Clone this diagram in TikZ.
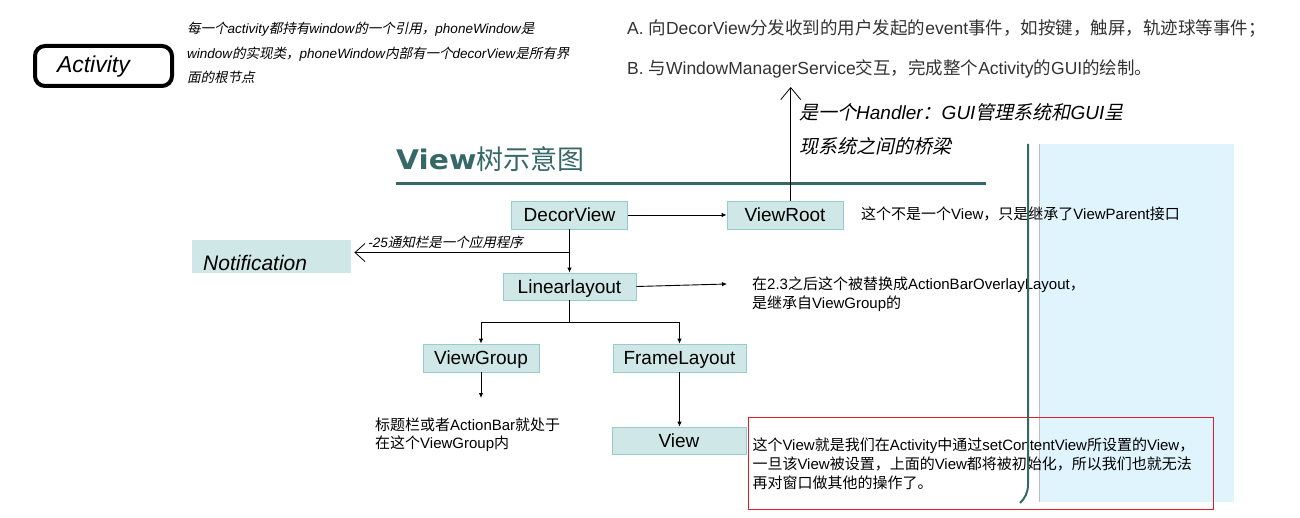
\documentclass[tikz,border=0pt]{standalone}
\usepackage{fontspec}
\setmainfont{Liberation Sans}
\newfontfamily\cjkupfont{Noto Sans CJK SC}
\newfontfamily\cjkitfont{Noto Sans CJK SC}[FakeSlant=0.22]
\newfontfamily\viewfont{DejaVu Sans}[FakeStretch=1.1]
\usetikzlibrary{arrows.meta}
\setlength{\parindent}{0pt}
\newif\ifcjkit
\def\cjkfont{\ifcjkit\cjkitfont\else\cjkupfont\fi}
\def\itcjk{\itshape\cjkittrue}
\XeTeXinterchartokenstate=1
\newXeTeXintercharclass\CJKcls
\newcount\cjkcnt
\def\cjkrange#1#2{\cjkcnt=#1\relax\loop\ifnum\cjkcnt<#2\relax\XeTeXcharclass\cjkcnt=\CJKcls\advance\cjkcnt by 1\repeat}
\cjkrange{"3000}{"3040}
\cjkrange{"4E00}{"A000}
\cjkrange{"FF00}{"FFF0}
\XeTeXinterchartoks 0 \CJKcls = {\begingroup\cjkfont}
\XeTeXinterchartoks 4095 \CJKcls = {\begingroup\cjkfont}
\XeTeXinterchartoks \CJKcls 0 = {\endgroup}
\XeTeXinterchartoks \CJKcls 4095 = {\endgroup}
\definecolor{boxfill}{RGB}{207,231,231}
\definecolor{boxborder}{RGB}{150,204,204}
\definecolor{tealc}{RGB}{55,104,104}
\definecolor{redc}{RGB}{225,30,40}
\definecolor{bluec}{RGB}{223,244,252}
\definecolor{graylc}{RGB}{190,190,190}
\definecolor{gtext}{RGB}{50,50,50}
\tikzset{
  tbox/.style={draw=boxborder, fill=boxfill, line width=0.8pt, minimum height=28pt,
    inner sep=0pt, text height=13.6pt, text depth=0pt, font=\fontsize{19}{22}\selectfont},
  carr/.style={-{Latex[length=5pt,width=4.5pt]}, line width=0.9pt},
  barbup/.style={-{Straight Barb[length=12pt,width=20pt,line width=0.8pt]}, line width=0.9pt},
  barbleft/.style={-{Straight Barb[length=10pt,width=18pt,line width=0.8pt]}, line width=0.9pt},
  notetext/.style={anchor=base west, inner sep=0pt, align=left, font=\fontsize{15}{18.5}\selectfont},
}
\begin{document}
\begin{tikzpicture}[x=1pt,y=-1pt]
\useasboundingbox (0,0) rectangle (1300,518);
% right decorative panel
\fill[bluec] (1039,144) rectangle (1234,502);
\draw[graylc, line width=1.5pt] (1039.5,144) -- (1039.5,502);

% Activity
\node[draw, line width=4pt, rounded corners=10pt, minimum height=40pt, text width=93pt,
  inner xsep=22pt, inner ysep=0pt, align=left, text height=16.5pt, text depth=4pt,
  font=\fontsize{23}{26}\selectfont\itshape] (activity) at (103.5,66) {Activity};

\node[anchor=base west, inner sep=0pt, text width=420pt, align=left,
  font=\fontsize{13.5}{24.5}\selectfont\itcjk] (n1) at (187,34)
  {每一个activity都持有window的一个引用，phoneWindow是\\window的实现类，phoneWindow内部有一个decorView是所有界\\面的根节点};

\node[anchor=base west, inner sep=0pt, font=\fontsize{17.5}{20}\selectfont, text=gtext] (nA) at (627,35)
  {A. 向DecorView分发收到的用户发起的event事件，如按键，触屏，轨迹球等事件；};
\node[anchor=base west, inner sep=0pt, font=\fontsize{17.5}{20}\selectfont, text=gtext] (nB) at (627,75)
  {B. 与WindowManagerService交互，完成整个Activity的GUI的绘制。};

\node[anchor=base west, inner sep=0pt, text width=360pt, align=left,
  font=\fontsize{19}{34}\selectfont\itcjk] (nH) at (799,120)
  {是一个Handler：GUI管理系统和GUI呈\\现系统之间的桥梁};

% title
\node[anchor=base west, inner sep=0pt, text=tealc, font=\fontsize{27}{30}\selectfont] (title) at (396,170)
  {{\viewfont\bfseries View}树示意图};
\draw[tealc, line width=3pt] (396,184) -- (986,184);

% boxes
\node[tbox, minimum width=116pt] (decor) at (569.5,215) {DecorView};
\node[tbox, minimum width=116pt] (viewroot) at (785,215) {ViewRoot};
\node[tbox, minimum width=133pt, minimum height=27pt] (linear) at (569.5,286.5) {Linearlayout};
\node[tbox, minimum width=116pt] (vgroup) at (481,358) {ViewGroup};
\node[tbox, minimum width=133pt] (frame) at (679.5,358) {FrameLayout};
\node[tbox, minimum width=134pt, minimum height=27pt] (view) at (679,440.5) {View};

\node[fill=boxfill, inner xsep=11pt, inner ysep=0pt, text width=137pt, text height=30pt, text depth=3pt,
  font=\fontsize{21}{24}\selectfont\itshape, anchor=north west] (notif) at (192,240) {Notification};

% notes
\node[notetext] (nvr) at (861,220) {这个不是一个View，只是继承了ViewParent接口};
\node[notetext, text width=360pt] (nlin) at (752,290)
  {在2.3之后这个被替换成ActionBarOverlayLayout，\\是继承自ViewGroup的};
\node[notetext, text width=220pt, font=\fontsize{15}{18}\selectfont] (nvg) at (375,430)
  {标题栏或者ActionBar就处于\\在这个ViewGroup内};
\node[anchor=base east, inner sep=0pt, font=\fontsize{13.5}{16}\selectfont\itcjk] (nlab) at (523,248)
  {-25通知栏是一个应用程序};

% connectors
\draw[carr] (decor) -- (viewroot);
\coordinate (uptip) at (790.7,87);
\draw[barbup] (viewroot.north -| uptip) -- (uptip);
\draw[carr] (decor) -- (linear);
\coordinate (nbr) at (569.5,252.5);
\draw[barbleft, shorten >=3pt] (nbr) -- (nbr -| notif.east);
\coordinate (lrtip) at (727,284);
\draw[carr] (linear.east) -- (lrtip);
\coordinate (jn) at (569.5,322);
\draw[line width=0.9pt] (linear.south) -- (jn);
\draw[carr] (jn) -| (vgroup.north);
\draw[carr] (jn) -| (frame.north);
\coordinate (vgtip) at (481,398);
\draw[carr] (vgroup.south) -- (vgtip);
\draw[carr] (frame.south) -- (frame.south |- view.north);

% red note
\node[draw=redc, line width=1pt, anchor=north west, minimum width=465pt, minimum height=92pt,
  text width=457pt, inner xsep=4pt, inner ysep=0pt, align=left, font=\fontsize{15}{19}\selectfont] (rednote) at (748,417)
  {这个View就是我们在Activity中通过setContentView所设置的View，\\一旦该View被设置，上面的View都将被初始化，所以我们也就无法\\再对窗口做其他的操作了。};

% teal vertical rule
\draw[tealc, line width=2pt] (1028,144) -- (1028,484) .. controls (1028,493) and (1025,498) .. (1020,503);
\end{tikzpicture}
\end{document}
